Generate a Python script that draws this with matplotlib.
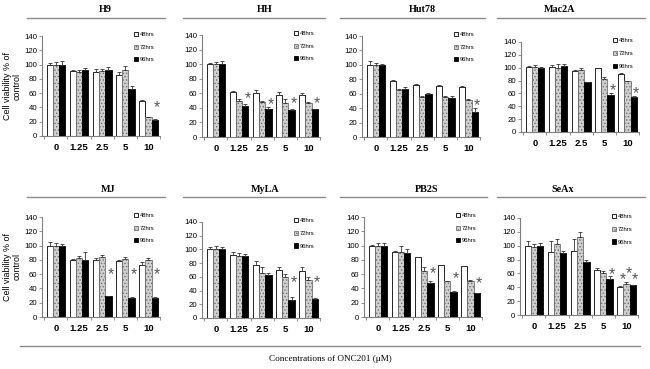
import matplotlib
matplotlib.use("Agg")
import matplotlib.pyplot as plt
import numpy as np
from matplotlib.lines import Line2D

plt.rcParams['font.family'] = ['Liberation Sans', 'DejaVu Sans']
plt.rcParams['hatch.linewidth'] = 0.6

concentrations = ["0", "1.25", "2.5", "5", "10"]
series_labels = ["48hrs", "72hrs", "96hrs"]
cell_lines = ["H9", "HH", "Hut78", "Mac2A", "MJ", "MyLA", "PB2S", "SeAx"]

# mean values [series][concentration]
h9_mean = [[100, 91, 90, 86, 49], [100, 90, 91, 93, 26], [100, 92, 92, 66, 23]]
h9_err = [[2, 1, 4, 3, 2], [3, 2, 3, 5, 1], [5, 3, 4, 4, 1]]
hh_mean = [[100, 62, 60, 58, 57], [100, 50, 48, 47, 46], [100, 42, 39, 37, 38]]
hh_err = [[2, 1, 4, 4, 3], [3, 2, 2, 5, 2], [5, 3, 2, 2, 1]]
hut78_mean = [[100, 77, 72, 71, 70], [100, 65, 56, 55, 51], [100, 66, 60, 54, 35]]
hut78_err = [[5, 2, 2, 1, 1], [2, 2, 1, 2, 1], [1, 4, 1, 3, 5]]
mac2a_mean = [[101, 101, 95, 99, 90], [101, 100, 97, 83, 79], [100, 103, 77, 58, 54]]
mac2a_err = [[2, 3, 1, 1, 1], [3, 5, 3, 2, 1], [1, 3, 0, 3, 2]]
mj_mean = [[100, 80, 80, 79, 73], [100, 82, 84, 81, 80], [99, 80, 29, 27, 27]]
mj_err = [[5, 1, 2, 0.5, 4], [3, 4, 3, 3, 2], [3, 11, 0.5, 0.5, 0.5]]
myla_mean = [[100, 92, 77, 70, 68], [100, 90, 65, 60, 55], [100, 90, 63, 26, 28]]
myla_err = [[4, 4, 6, 4, 6], [5, 5, 10, 4, 5], [4, 3, 3, 4, 1]]
pb2s_mean = [[100, 91, 84, 73, 71], [99, 91, 64, 50, 51], [100, 90, 48, 35, 33]]
pb2s_err = [[1, 1, 0.5, 0.5, 0.5], [4, 9, 6, 1, 1], [4, 5, 3, 1, 1]]
seax_mean = [[100, 91, 92, 65, 41], [98, 102, 112, 61, 45], [99, 89, 77, 52, 43]]
seax_err = [[7, 16, 17, 3, 1], [5, 7, 8, 3, 2], [5, 4, 3, 4, 1]]

# significance stars: (concentration index, series index, height)
h9_stars = [(4, 2, 40)]
hh_stars = [(1, 2, 53), (2, 2, 45), (3, 2, 46), (4, 2, 46)]
hut78_stars = [(4, 2, 44)]
mac2a_stars = [(3, 2, 65), (4, 2, 60)]
mj_stars = [(2, 2, 59), (3, 2, 59), (4, 2, 59)]
myla_stars = [(3, 2, 51), (4, 2, 51)]
pb2s_stars = [(2, 2, 61), (3, 2, 54), (4, 2, 47)]
seax_stars = [(3, 2, 58), (4, 0, 51), (4, 1, 59), (4, 2, 51)]

means = [h9_mean, hh_mean, hut78_mean, mac2a_mean, mj_mean, myla_mean, pb2s_mean, seax_mean]
errs = [h9_err, hh_err, hut78_err, mac2a_err, mj_err, myla_err, pb2s_err, seax_err]
stars = [h9_stars, hh_stars, hut78_stars, mac2a_stars, mj_stars, myla_stars, pb2s_stars, seax_stars]

W, H = 650, 369
fig = plt.figure(figsize=(W / 100, H / 100), dpi=100)

# panel geometry in pixels: left, top(140), bottom(0)
geom = [(42, 36, 136), (202, 35, 137), (362, 36, 137), (521, 42, 132),
        (42, 217, 317), (202, 222, 318), (364, 217, 317), (520, 218, 315)]
title_x = [105, 265, 422, 560, 108, 265, 427, 563]
line_ext = [(27, 165), (183, 325), (340, 485), (497, 645),
            (27, 165), (183, 325), (340, 487), (497, 645)]
axw = 118

bw = 0.27
styles = [dict(facecolor='white', edgecolor='black', hatch=None),
          dict(facecolor='#d0d0d0', edgecolor='#707070', hatch='.....'),
          dict(facecolor='black', edgecolor='black', hatch=None)]
spine_col = '#7f7f7f'

for i, name in enumerate(cell_lines):
    left, top, bot = geom[i]
    ax = fig.add_axes([left / W, 1 - bot / H, axw / W, (bot - top) / H])
    x = np.arange(len(concentrations))
    handles = []
    for s in range(3):
        st = styles[s]
        b = ax.bar(x + (s - 1) * bw, means[i][s], width=bw, facecolor=st['facecolor'],
                   edgecolor=st['edgecolor'], hatch=st['hatch'], linewidth=0.6,
                   label=series_labels[s], zorder=2)
        ax.errorbar(x + (s - 1) * bw, means[i][s], yerr=[np.zeros(5), errs[i][s]],
                    fmt='none', ecolor='#333333', elinewidth=0.6, capsize=1.5,
                    capthick=0.6, zorder=3)
        handles.append(b)
    for (g, s, yv) in stars[i]:
        ax.text(g + (s - 1) * bw + 0.1, yv, '*', fontsize=11.5, ha='center', va='center',
                color='#555555', zorder=4)
    ax.set_ylim(0, 140)
    ax.set_xlim(-0.6, 4.45)
    ax.set_yticks(range(0, 141, 20))
    ax.set_xticks(x)
    ax.set_xticklabels(concentrations, fontsize=6.8, fontweight='bold')
    ax.set_xticks(np.arange(-0.5, 4.6, 1), minor=True)
    ax.tick_params(axis='x', which='major', length=0, pad=5)
    ax.tick_params(axis='x', which='minor', length=2, width=0.6, color=spine_col)
    ax.tick_params(axis='y', labelsize=5.6, length=2, width=0.6, color=spine_col, pad=1.5)
    for sp in ['top', 'right']:
        ax.spines[sp].set_visible(False)
    for sp in ['left', 'bottom']:
        ax.spines[sp].set_color(spine_col)
        ax.spines[sp].set_linewidth(0.8)
    ax.legend(handles=handles, loc='upper left', bbox_to_anchor=(0.78, 1.04),
              frameon=False, fontsize=4.2, handlelength=0.7, handleheight=0.7,
              handletextpad=0.3, labelspacing=1.3, borderaxespad=0, borderpad=0)
    if i % 4 == 0:
        ax.set_ylabel('Cell viability % of\ncontrol', fontsize=6.4, labelpad=2,
                      linespacing=1.0)
    ty = 9 if i < 4 else 189
    ly = 18 if i < 4 else 197
    fig.text(title_x[i] / W, 1 - ty / H, name, ha='center', va='center',
             fontsize=7.3, fontweight='bold', family='Liberation Serif')
    x0, x1 = line_ext[i]
    fig.add_artist(Line2D([x0 / W, x1 / W], [1 - ly / H, 1 - ly / H],
                          color='#8a8a8a', linewidth=1.0))

fig.add_artist(Line2D([20 / W, 640 / W], [1 - 346 / H, 1 - 346 / H],
                      color='#8a8a8a', linewidth=1.0))
fig.text(330 / W, 1 - 359 / H, 'Concentrations of ONC201 (\u03bcM)', ha='center',
         va='center', fontsize=6.6, family='Liberation Serif')

fig.savefig('out.png', dpi=100)
